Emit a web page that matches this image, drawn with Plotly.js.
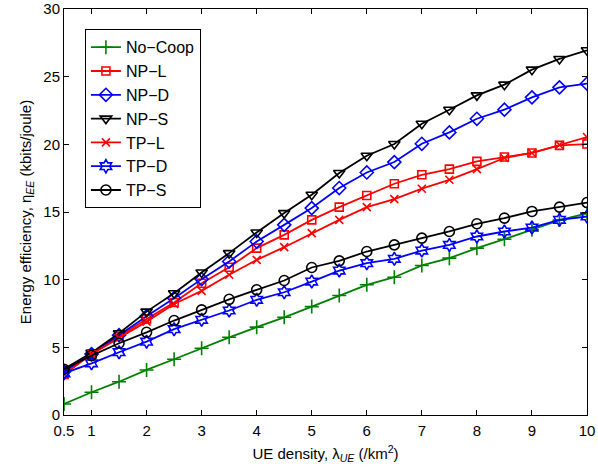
<!DOCTYPE html>
<html>
<head>
<meta charset="utf-8">
<script src="https://cdn.plot.ly/plotly-3.0.1.min.js"></script>
<style>html,body{margin:0;padding:0;background:#fff;}#chart{width:598px;height:470px;}</style>
</head>
<body>
<div id="chart"></div>
<script>
const density = [0.5,1,1.5,2,2.5,3,3.5,4,4.5,5,5.5,6,6.5,7,7.5,8,8.5,9,9.5,10];
const noCoop = [0.81,1.68,2.46,3.33,4.12,4.93,5.74,6.49,7.22,8.01,8.83,9.62,10.18,11.05,11.59,12.33,12.99,13.68,14.4,14.9];
const npL = [3.0,4.5,5.8,7.1,8.31,9.74,10.92,12.33,13.31,14.42,15.36,16.22,17.09,17.75,18.17,18.74,19.06,19.36,19.92,20.02];
const npD = [3.2,4.5,5.9,7.3,8.63,10.04,11.34,12.82,14.05,15.29,16.77,17.92,18.69,20.04,20.88,21.89,22.56,23.47,24.21,24.48];
const npS = [3.4,4.6,6.04,7.64,9.0,10.53,11.96,13.49,14.92,16.27,17.88,19.16,20.02,21.52,22.56,23.62,24.41,25.52,26.31,26.95];
const tpL = [3.0,4.5,5.7,6.9,8.2,9.17,10.36,11.46,12.4,13.44,14.42,15.36,15.95,16.72,17.38,18.17,18.99,19.36,19.97,20.54];
const tpD = [3.08,3.82,4.64,5.42,6.34,7.03,7.72,8.51,9.07,9.86,10.67,11.22,11.54,12.15,12.57,13.19,13.56,13.85,14.42,14.67];
const tpS = [3.38,4.39,5.3,6.11,6.98,7.77,8.55,9.25,9.94,10.9,11.39,12.08,12.57,13.07,13.56,14.13,14.55,15.04,15.36,15.7];
const xTicks = [0.5,1,2,3,4,5,6,7,8,9,10];
const xTickLabels = ['0.5','1','2','3','4','5','6','7','8','9','10'];

const FONT = '"Liberation Sans", Arial, Helvetica, sans-serif';
function tr(name, y, color, symbol, size) {
  return {x: density, y: y, name: name, type: 'scatter', mode: 'lines+markers',
    line: {color: color, width: 1.8},
    marker: {symbol: symbol, size: size || 9, color: color, line: {color: color, width: 1.6}}};
}
const data = [
  tr('No\u2212Coop', noCoop, '#008000', 'cross-thin-open', 10),
  tr('NP\u2212L', npL, '#ff0000', 'square-open', 8),
  tr('NP\u2212D', npD, '#0000ff', 'diamond-open', 10),
  tr('NP\u2212S', npS, '#000000', 'triangle-down-open', 10),
  tr('TP\u2212L', tpL, '#ff0000', 'x-thin-open', 8),
  tr('TP\u2212D', tpD, '#0000ff', 'hexagram-open', 10),
  tr('TP\u2212S', tpS, '#000000', 'circle-open', 10)
];
const axisCommon = {showline: true, linecolor: '#000', linewidth: 1, mirror: 'ticks', ticks: 'inside',
  ticklen: 5, tickcolor: '#000', showgrid: false, zeroline: false,
  tickfont: {family: FONT, size: 15, color: '#000'}};
const layout = {
  width: 598, height: 470,
  margin: {l: 64, r: 11, t: 9, b: 55},
  paper_bgcolor: '#fff', plot_bgcolor: '#fff',
  font: {family: FONT, color: '#000'},
  showlegend: true,
  legend: {x: 0.04, y: 0.95, xanchor: 'left', yanchor: 'top', bgcolor: '#fff',
    bordercolor: '#000', borderwidth: 1, font: {family: FONT, size: 16, color: '#000'},
    tracegroupgap: 0, itemwidth: 30},
  xaxis: Object.assign({}, axisCommon, {range: [0.5, 10], tickmode: 'array', tickvals: xTicks, ticktext: xTickLabels,
    ticklabelstandoff: 2,
    title: {text: 'UE density, \u03bb<sub><i>UE</i></sub> (/km<sup>2</sup>)', font: {family: FONT, size: 15, color: '#000'}, standoff: 10}}),
  yaxis: Object.assign({}, axisCommon, {range: [0, 30], tickmode: 'array', tickvals: [0,5,10,15,20,25,30],
    title: {text: 'Energy efficiency, \u03b7<sub><i>EE</i></sub> (kbits/joule)', font: {family: FONT, size: 15, color: '#000'}, standoff: 8}})
};
Plotly.newPlot('chart', data, layout, {displayModeBar: false, staticPlot: true});
</script>
</body>
</html>
